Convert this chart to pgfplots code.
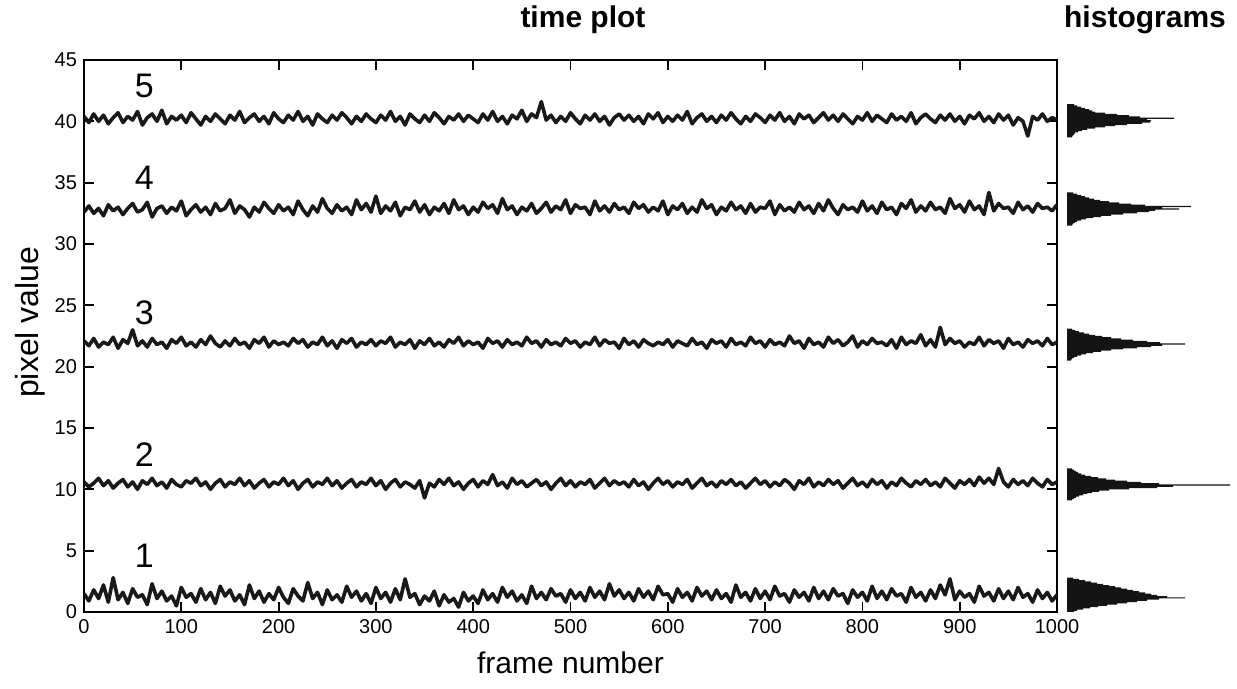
\documentclass[border=0pt]{standalone}
\usepackage{fontspec}
\setmainfont{Liberation Sans}
\usepackage{pgfplots}
\usepackage{pgfplotstable}
\pgfplotsset{compat=1.18}
\pgfplotstableread{
f s1 s2 s3 s4 s5
0 1.5 10.6 22.1 32.6 40.4
5 0.9 10.2 21.7 33.1 39.9
10 1.8 10.5 22.3 32.5 40.6
15 1.1 10.9 21.6 32.9 40.0
20 2.2 10.3 22.0 32.3 40.5
25 0.8 10.7 21.8 33.2 39.8
30 2.8 10.1 22.4 32.7 40.3
35 1.0 10.5 21.5 33.0 40.7
40 1.6 10.8 22.2 32.4 39.9
45 0.7 10.2 21.9 32.9 40.4
50 1.9 10.6 23.0 33.3 40.1
55 1.2 10.0 21.7 32.6 40.8
60 1.4 10.7 22.1 32.8 39.7
65 0.6 10.4 21.6 33.4 40.3
70 2.3 10.9 22.3 32.2 40.6
75 1.1 10.3 21.8 32.9 40.0
80 1.7 10.6 22.0 33.1 40.9
85 0.9 10.1 21.5 32.5 39.8
90 1.3 10.8 22.2 33.0 40.4
95 0.5 10.4 21.9 32.7 40.1
100 2.0 10.2 22.4 33.5 40.5
105 1.2 10.7 21.7 32.3 39.9
110 1.5 10.5 22.0 32.8 40.7
115 0.8 10.9 21.6 33.2 40.2
120 1.9 10.3 22.2 32.6 39.7
125 1.0 10.6 21.8 33.0 40.4
130 1.6 10.0 22.5 32.4 40.0
135 0.7 10.5 21.9 33.3 40.6
140 2.1 10.8 21.6 32.7 40.2
145 1.3 10.2 22.1 32.9 39.8
150 1.8 10.6 21.7 33.6 40.5
155 0.9 10.4 22.3 32.5 40.1
160 1.4 10.9 21.8 33.1 40.8
165 0.6 10.3 22.0 32.8 39.9
170 2.2 10.7 21.5 32.2 40.3
175 1.1 10.1 22.2 33.0 40.6
180 1.7 10.5 21.9 32.6 40.0
185 0.8 10.8 22.4 33.4 40.4
190 1.5 10.2 21.6 32.9 39.8
195 1.0 10.6 22.1 32.5 40.7
200 2.0 10.4 21.8 33.2 40.2
205 1.2 10.9 22.0 32.7 39.9
210 0.7 10.3 21.7 33.0 40.5
215 1.9 10.7 22.3 32.4 40.1
220 1.3 10.0 21.9 33.5 40.8
225 0.9 10.5 22.2 32.8 40.0
230 2.4 10.8 21.6 32.3 40.4
235 1.1 10.2 22.0 33.1 39.7
240 1.6 10.6 21.8 32.6 40.6
245 0.6 10.4 22.4 33.7 40.2
250 1.8 10.9 21.7 32.9 39.9
255 1.0 10.3 22.1 32.5 40.5
260 1.4 10.7 21.5 33.2 40.1
265 0.8 10.1 22.2 32.7 40.7
270 2.1 10.5 21.9 33.0 40.3
275 1.2 10.8 22.3 32.4 39.8
280 1.7 10.2 21.6 33.6 40.4
285 0.9 10.6 22.0 32.8 40.0
290 1.5 10.4 21.8 33.3 40.6
295 0.7 10.9 22.2 32.6 40.2
300 2.0 10.3 21.7 33.9 39.9
305 1.1 10.7 22.1 32.5 40.5
310 1.6 10.0 21.9 33.1 40.1
315 0.8 10.5 22.4 32.7 40.8
320 1.9 10.8 21.6 33.4 40.0
325 1.0 10.2 22.0 32.3 40.4
330 2.7 10.6 21.8 33.0 39.7
335 1.2 10.4 22.2 32.8 40.6
340 1.5 10.1 21.5 33.5 40.2
345 0.6 10.7 22.1 32.6 39.9
350 1.3 9.3 21.8 33.2 40.5
355 0.9 10.5 22.3 32.4 40.0
360 1.7 10.2 21.7 33.0 40.7
365 0.5 10.8 22.0 32.7 40.3
370 1.4 10.4 21.6 33.3 39.8
375 0.8 10.9 22.2 32.5 40.4
380 1.1 10.3 21.9 33.6 40.1
385 0.4 10.6 22.4 32.8 40.6
390 1.6 10.0 21.7 33.1 40.0
395 0.9 10.5 22.1 32.4 40.5
400 1.3 10.8 21.8 33.0 40.2
405 0.7 10.2 22.0 32.6 39.9
410 1.8 10.7 21.5 33.4 40.6
415 1.0 10.4 22.3 32.9 40.1
420 1.5 11.2 21.9 33.2 40.8
425 0.8 10.3 22.1 32.5 40.0
430 2.0 10.6 21.6 33.7 40.4
435 1.2 10.1 22.2 32.8 39.8
440 1.7 10.9 21.8 33.1 40.5
445 0.9 10.4 22.0 32.4 40.2
450 1.4 10.7 21.7 33.0 40.9
455 0.7 10.2 22.4 32.7 40.0
460 2.1 10.5 21.9 33.3 40.6
465 1.1 10.8 22.1 32.5 40.3
470 1.6 10.3 21.6 32.9 41.6
475 1.0 10.6 22.2 33.4 40.1
480 1.9 10.0 21.8 32.6 40.5
485 1.3 10.5 22.0 33.1 39.9
490 1.5 10.9 21.7 32.8 40.4
495 0.8 10.3 22.3 33.6 40.0
500 1.8 10.7 21.9 32.5 40.7
505 1.1 10.2 22.1 33.2 40.2
510 1.6 10.6 21.6 32.9 39.8
515 0.9 10.4 22.0 33.0 40.5
520 2.0 10.8 21.8 32.4 40.1
525 1.2 10.1 22.4 33.5 40.6
530 1.7 10.5 21.7 32.7 40.0
535 1.0 10.9 22.2 33.1 40.4
540 2.3 10.3 21.9 32.6 39.7
545 1.3 10.7 22.0 33.3 40.3
550 1.8 10.4 21.5 32.8 40.6
555 1.1 10.6 22.3 33.0 40.1
560 1.6 10.2 21.8 32.5 40.5
565 0.9 10.8 22.1 33.4 40.0
570 1.9 10.3 21.6 32.9 40.4
575 1.2 10.6 22.2 33.2 39.8
580 1.7 10.0 21.9 32.6 40.6
585 1.0 10.5 21.7 33.0 40.2
590 2.1 10.9 22.0 32.7 40.7
595 1.4 10.4 21.8 33.5 39.9
600 1.5 10.7 22.2 32.4 40.4
605 0.8 10.2 21.6 33.1 40.0
610 1.9 10.6 22.1 32.8 40.5
615 1.2 10.4 21.9 33.3 40.1
620 1.6 10.8 21.7 32.5 40.8
625 0.9 10.1 22.3 33.0 39.8
630 2.0 10.5 21.8 32.6 40.3
635 1.3 10.9 22.0 33.6 40.6
640 1.7 10.3 21.5 32.9 40.0
645 1.0 10.6 22.2 33.2 40.4
650 1.8 10.2 21.9 32.4 39.9
655 1.1 10.7 22.1 33.0 40.5
660 1.5 10.4 21.6 32.7 40.1
665 0.8 10.8 22.3 33.4 40.7
670 2.2 10.3 21.8 32.8 40.2
675 1.2 10.6 22.0 33.1 39.8
680 1.6 10.1 21.7 32.5 40.4
685 0.9 10.5 22.4 33.3 40.0
690 1.9 10.9 21.9 32.6 40.6
695 1.1 10.4 22.1 33.0 40.3
700 1.7 10.7 21.6 32.9 39.9
705 1.0 10.2 22.2 33.5 40.5
710 2.1 10.6 21.8 32.4 40.1
715 1.3 10.3 22.0 33.2 40.7
720 1.5 10.8 21.7 32.7 40.0
725 0.8 10.5 22.5 33.0 40.4
730 1.8 10.0 21.9 32.6 39.8
735 1.2 10.7 22.1 33.4 40.6
740 1.6 10.4 21.5 32.8 40.2
745 0.9 10.9 22.3 33.1 40.5
750 2.0 10.2 21.8 32.5 39.9
755 1.1 10.6 22.0 33.3 40.3
760 1.7 10.3 21.6 32.7 40.7
765 1.0 10.8 22.4 33.6 40.1
770 1.9 10.4 21.9 32.9 40.5
775 1.3 10.7 22.2 32.4 40.0
780 1.5 10.1 21.7 33.2 40.6
785 0.7 10.5 22.0 32.8 40.2
790 1.8 10.9 22.5 33.0 39.8
795 1.2 10.3 21.6 32.6 40.4
800 1.6 10.6 22.1 33.5 40.1
805 0.9 10.2 21.8 32.7 40.7
810 2.1 10.8 22.3 33.1 40.0
815 1.1 10.4 21.9 32.5 40.5
820 1.7 10.7 22.0 33.4 40.2
825 1.0 10.1 21.7 32.8 39.9
830 1.9 10.6 22.2 33.0 40.6
835 1.3 10.3 21.5 32.4 40.1
840 1.5 10.9 22.4 33.3 40.4
845 0.8 10.5 21.8 32.9 40.0
850 2.0 10.2 22.1 33.6 40.7
855 1.2 10.7 21.9 32.6 39.8
860 1.6 10.4 22.6 33.1 40.3
865 0.9 10.8 21.7 32.7 40.6
870 1.8 10.3 22.2 33.4 40.2
875 1.1 10.6 21.6 32.8 39.9
880 2.2 10.2 23.2 33.0 40.5
885 1.4 10.9 21.8 32.5 40.1
890 2.7 10.5 22.3 33.7 40.6
895 1.0 10.1 21.9 32.9 40.0
900 1.7 10.7 22.1 33.2 40.4
905 1.2 10.4 21.6 32.6 39.8
910 1.5 10.8 22.0 33.5 40.5
915 0.8 10.3 21.8 32.8 40.2
920 2.1 11.0 22.4 33.1 40.7
925 1.3 10.5 21.7 32.4 40.0
930 1.6 10.9 22.2 34.2 40.4
935 0.9 10.4 21.9 32.7 39.9
940 1.9 11.7 22.1 33.3 40.6
945 1.1 10.6 21.5 32.9 40.1
950 1.7 10.2 22.3 33.0 40.5
955 1.0 10.8 21.8 32.5 39.7
960 2.0 10.4 22.0 33.4 40.3
965 1.2 10.7 21.6 32.8 40.0
970 1.5 10.3 22.2 33.1 38.8
975 0.8 10.9 21.9 32.6 40.4
980 1.8 10.5 22.1 33.3 40.1
985 1.1 10.2 21.7 32.9 40.6
990 1.6 10.8 22.3 33.0 40.0
995 0.9 10.4 21.8 32.7 40.3
1000 1.4 10.6 22.0 33.2 40.1
}\traces
\pgfplotstableread{
y c
2.75 6
2.65 12
2.55 18
2.45 24
2.35 30
2.25 36
2.15 42
2.05 48
1.95 54
1.85 60
1.75 66
1.65 72
1.55 78
1.45 84
1.35 90
1.25 100
1.15 118
1.05 92
0.95 80
0.85 70
0.75 60
0.65 50
0.55 40
0.45 31
0.35 23
0.25 16
0.15 10
0.05 7
}\hone
\pgfplotstableread{
y c
11.65 5
11.55 7
11.45 9
11.35 11
11.25 14
11.15 18
11.05 24
10.95 31
10.85 39
10.75 48
10.65 60
10.55 74
10.45 92
10.35 163
10.25 106
10.15 90
10.05 62
9.95 42
9.85 32
9.75 25
9.65 20
9.55 16
9.45 12
9.35 9
9.25 7
9.15 5
}\htwo
\pgfplotstableread{
y c
23.05 5
22.95 8
22.85 12
22.75 17
22.65 22
22.55 28
22.45 35
22.35 44
22.25 54
22.15 66
22.05 80
21.95 93
21.85 118
21.75 95
21.65 84
21.55 70
21.45 56
21.35 44
21.25 34
21.15 26
21.05 19
20.95 14
20.85 10
20.75 7
20.65 5
20.55 4
}\hthree
\pgfplotstableread{
y c
34.15 6
34.05 10
33.95 14
33.85 18
33.75 22
33.65 27
33.55 33
33.45 42
33.35 52
33.25 64
33.15 78
33.05 124
32.95 95
32.85 112
32.75 88
32.65 82
32.55 70
32.45 56
32.35 44
32.25 34
32.15 26
32.05 19
31.95 14
31.85 10
31.75 8
31.65 6
31.55 5
}\hfour
\pgfplotstableread{
y c
41.35 7
41.25 10
41.15 14
41.05 18
40.95 22
40.85 25
40.75 28
40.65 38
40.55 50
40.45 62
40.35 73
40.25 107
40.15 80
40.05 84
39.95 83
39.85 75
39.75 60
39.65 48
39.55 38
39.45 28
39.35 20
39.25 15
39.15 11
39.05 8
38.95 7
38.85 6
38.75 5
}\hfive
\begin{document}
\begin{tikzpicture}
\useasboundingbox (0pt,0pt) rectangle (618.5pt,344.5pt);
\begin{axis}[
  at={(42pt,38.5pt)}, anchor=south west, scale only axis,
  width=486.5pt, height=276pt,
  xmin=0, xmax=1000, ymin=0, ymax=45,
  xtick={0,100,...,1000}, ytick={0,5,...,45},
  tick align=inside, major tick length=5pt,
  axis line style={line width=1.3pt},
  every tick/.style={line width=0.9pt, black},
  tick label style={font=\fontsize{10}{12}\selectfont,
    /pgf/number format/assume math mode=true,
    /pgf/number format/1000 sep={}},
  xlabel={frame number}, ylabel={pixel value},
  xlabel style={font=\fontsize{15}{18}\selectfont, at={(axis description cs:0.5,-0.0924)}, anchor=center},
  ylabel style={font=\fontsize{16}{19}\selectfont, at={(axis description cs:-0.0555,0.525)}, anchor=center},
]
\addplot[line width=1.8pt, black!90, line join=round] table[x=f, y=s1]{\traces};
\addplot[line width=1.8pt, black!90, line join=round] table[x=f, y=s2]{\traces};
\addplot[line width=1.8pt, black!90, line join=round] table[x=f, y=s3]{\traces};
\addplot[line width=1.8pt, black!90, line join=round] table[x=f, y=s4]{\traces};
\addplot[line width=1.8pt, black!90, line join=round] table[x=f, y=s5]{\traces};
\node[font=\fontsize{17}{20}\selectfont] at (axis cs:62,4.6) {1};
\node[font=\fontsize{17}{20}\selectfont] at (axis cs:62,12.8) {2};
\node[font=\fontsize{17}{20}\selectfont] at (axis cs:62,24.4) {3};
\node[font=\fontsize{17}{20}\selectfont] at (axis cs:62,35.4) {4};
\node[font=\fontsize{17}{20}\selectfont] at (axis cs:62,42.9) {5};
\end{axis}
\begin{axis}[
  at={(533.5pt,38.5pt)}, anchor=south west, scale only axis,
  width=85pt, height=276pt,
  xmin=0, xmax=170, ymin=0, ymax=45,
  hide axis, xbar, bar width=0.1, bar shift=0pt, clip=false,
]
\addplot[fill=black!92, draw=none] table[x=c, y=y]{\hone};
\addplot[fill=black!92, draw=none] table[x=c, y=y]{\htwo};
\addplot[fill=black!92, draw=none] table[x=c, y=y]{\hthree};
\addplot[fill=black!92, draw=none] table[x=c, y=y]{\hfour};
\addplot[fill=black!92, draw=none] table[x=c, y=y]{\hfive};
\end{axis}
\node[font=\bfseries\fontsize{15}{18}\selectfont] at (291.5pt,334.5pt) {time plot};
\node[font=\bfseries\fontsize{15}{18}\selectfont] at (572.5pt,334.5pt) {histograms};
\end{tikzpicture}
\end{document}
